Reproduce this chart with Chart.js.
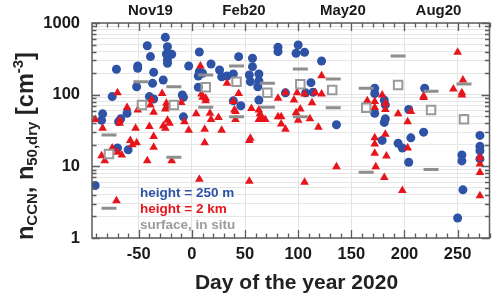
<!DOCTYPE html>
<html><head><meta charset="utf-8">
<script src="https://cdn.jsdelivr.net/npm/chart.js@4/dist/chart.umd.min.js"></script>
<style>html,body{margin:0;padding:0;background:#fff}#wrap{width:500px;height:295px}</style>
</head><body><div id="wrap"><canvas id="c" width="500" height="295"></canvas></div>
<script>
// ---- data (day of year 2020, concentration cm^-3) ----
const blueDays = [-25,-42,-23,-24,-19,-23,-23,-39,7,44,57,81,81,100,98,106,122,-51,-51,-71,-36,-3,18,26,7,10,6,28,33,39,57,54,63,55,63,62,-27,-37,-52,6,-40,-36,-9,-8,-75,39,46,63,-61,-84,-85,-67,-69,-8,-70,-60,112,88,107,114,136,172,172,181,182,172,182,181,204,219,218,206,179,194,198,271,271,271,254,254,271,204,255,250,-91];
const blueValues = [631,482,467,370,366,305,274,340,394,339,322,458,398,493,378,390,295,251,233,226,205,251,268,221,209,199,182,178,182,194,246,188,194,152,155,129,160,144,129,127,94,87,99,92,94,82,70,84,55,54,44,46,42,49,18,17,147,106,106,108,38,123,104,84,72,55,46,41,62,123,30,25,23,21,18,27,19,16.5,14.4,11.9,12.7,11.4,4.7,1.9,5.4];

const redDays = [250,122,255,246,254,254,218,218,81,88,99,106,116,122,96,113,102,98,81,84,100,111,84,88,119,165,172,179,172,182,182,194,206,203,172,172,182,203,172,183,173,136,181,106,198,271,271,271,271,-58,-52,-56,-75,-85,-82,-70,-66,-36,-42,-19,12,7,54,54,-71,8,-70,-28,9,10,33,44,39,40,13,-10,-24,-24,-25,-51,-36,-61,-91,-84,-68,-68,-53,-40,-27,-23,-25,-21,-7,-3,4,17,18,25,12,28,41,41,56,63,64,63,66,69,55,-38,-39,-36,13];
const redValues = [390,184,160,120,106,99,96,91,89,106,106,102,106,102,84,77,63,56,49,49,44,46,39,33,35,82,80,99,66,76,62,54,58,42,25,20.5,28,18,15.2,13.9,9.9,9.9,7.0,6.0,4.6,13.4,10.8,8.2,3.9,23,21.4,20,18,14,12,15.7,14.4,18.4,12,12,21.4,6.6,23,6.2,3.3,251,106,104,102,92,144,104,80,61,82,78,76,68,63,61,57,66,45,34,44,40,34,36,36.5,44,34,40,42,32,54,55,45,48,33,32,58,45,64,61,54,45,47,45,24.6,85,72,26,89];

const surfDashDays = [-78,-78,-48,-17,-17,13,13,42,42,71,71,102,102,133,133,164,164,194,225,225,256];
const surfDashValues = [27.4,2.6,152,129,13.4,188,66.7,251,49.3,144,66.7,228,49.3,165,65.8,123,8.3,347,112,9,141];

const surfSquareDays = [-78,-47,-17,13,42,71,102,132,164,194,225,256];
const surfSquareValues = [14.9,71.8,71.8,127,152,106,140,116,65.8,136,61,45.3];

const xTickLabels = [-50,0,50,100,150,200,250];
const yTickLabels = [1,10,100,1000];
const topLabels = ['Nov19','Feb20','May20','Aug20'];
const topLabelDays = [-39,49,142,232];
const legendTexts = ['height = 250 m','height = 2 km','surface, in situ'];

const BLUE = '#2d52a6', RED = '#e8141c', GRAY = '#8e8e8e';
const FONT = "'Liberation Sans', Arial, Helvetica, sans-serif";
Chart.defaults.font.family = FONT;

function pts(xs, ys){ return xs.map((d,i)=>({x:d, y:ys[i]})); }

const decor = {
  id: 'decor',
  afterDraw(chart){
    const ctx = chart.ctx;
    const {left,right,top,bottom} = chart.chartArea;
    const xs = chart.scales.x, ys = chart.scales.y;
    ctx.save();
    ctx.strokeStyle = '#5c5c5c';
    ctx.lineWidth = 1.3;
    ctx.beginPath();
    xs.ticks.forEach(t=>{
      const px = Math.round(xs.getPixelForValue(t.value))+0.5;
      const len = (t.value % 50 === 0) ? 8 : 4.5;
      ctx.moveTo(px,bottom); ctx.lineTo(px,bottom-len);
      ctx.moveTo(px,top); ctx.lineTo(px,top+len);
    });
    ys.ticks.forEach(t=>{
      const py = Math.round(ys.getPixelForValue(t.value))+0.5;
      const major = yTickLabels.includes(t.value);
      const len = major ? 8 : 4.5;
      ctx.moveTo(left,py); ctx.lineTo(left+len,py);
      ctx.moveTo(right,py); ctx.lineTo(right-len,py);
    });
    ctx.stroke();
    ctx.lineWidth = 1.5;
    ctx.strokeRect(left, top, right-left, bottom-top);

    // legend texts
    ctx.font = 'bold 13.5px ' + FONT;
    ctx.textAlign = 'left'; ctx.textBaseline = 'alphabetic';
    const cols = [BLUE, RED, '#9b9b9b'];
    legendTexts.forEach((s,i)=>{ ctx.fillStyle = cols[i]; ctx.fillText(s, 140, 197 + i*16); });

    // x title
    ctx.fillStyle = '#222';
    ctx.font = 'bold 21px ' + FONT;
    ctx.textAlign = 'center';
    ctx.fillText('Day of the year 2020', 296.5, 289);

    // y title with sub/superscripts
    ctx.translate(33, 240);
    ctx.rotate(-Math.PI/2);
    ctx.textAlign = 'left';
    const F = 23.5, S = 15;
    const segs = [
      ['n', F, 0], ['CCN', S, 4], [', ', F, 0], ['n', F, 0], ['50,dry', S, 4],
      [' [cm', F, 0], ['-3', S, -10], [']', F, 0]
    ];
    let x = 0;
    segs.forEach(([t,sz,dy])=>{
      ctx.font = 'bold ' + sz + 'px ' + FONT;
      ctx.fillText(t, x, dy);
      x += ctx.measureText(t).width;
    });
    ctx.restore();
  }
};

new Chart(document.getElementById('c'), {
  type: 'scatter',
  data: {
    datasets: [
      { label:'height = 250 m', data: pts(blueDays, blueValues), pointStyle:'circle', pointRadius:4.5,
        backgroundColor: BLUE, borderColor: BLUE, borderWidth: 0, order: 4 },
      { label:'height = 2 km', data: pts(redDays, redValues), pointStyle:'triangle', pointRadius:5,
        backgroundColor: RED, borderColor: RED, borderWidth: 0, order: 3 },
      { label:'surface range', data: pts(surfDashDays, surfDashValues), pointStyle:'line', pointRadius:7.5,
        backgroundColor: GRAY, borderColor: GRAY, borderWidth: 3, order: 2 },
      { label:'surface, in situ', data: pts(surfSquareDays, surfSquareValues), pointStyle:'rect', pointRadius:6,
        backgroundColor: 'rgba(255,255,255,0)', borderColor: '#999999', borderWidth: 2, order: 1 }
    ]
  },
  options: {
    responsive: false, animation: false, devicePixelRatio: 1, events: [],
    layout: { padding: { left: 0, right: 8, top: 0, bottom: 0 } },
    plugins: { legend: { display: false }, tooltip: { enabled: false } },
    scales: {
      x: {
        type: 'linear', position: 'bottom', min: -94, max: 280,
        afterBuildTicks(scale){ const a=[]; for(let v=-90; v<=280; v+=10) a.push({value:v}); scale.ticks = a; },
        afterFit(scale){ scale.height = 57; },
        grid: { drawTicks: false, color: c => (c.tick && c.tick.value % 50 === 0) ? '#e4e4e4' : 'rgba(0,0,0,0)', lineWidth: 1 },
        border: { display: false },
        ticks: { autoSkip: false, maxRotation: 0, padding: 7, color: '#1a1a1a',
          font: { size: 16.5, weight: 'bold' },
          callback: v => xTickLabels.includes(v) ? String(v) : '' }
      },
      x2: {
        type: 'linear', position: 'top', min: -94, max: 280,
        afterBuildTicks(scale){ scale.ticks = topLabelDays.map(v=>({value:v})); },
        afterFit(scale){ scale.height = 23; },
        grid: { display: false, drawTicks: false },
        border: { display: false },
        ticks: { autoSkip: false, maxRotation: 0, padding: 3, color: '#1a1a1a',
          font: { size: 15, weight: 'bold' },
          callback: (v, i) => topLabels[i] }
      },
      y: {
        type: 'logarithmic', position: 'left', min: 1, max: 1000,
        afterBuildTicks(scale){ const a=[]; for(const d of [1,10,100]) for(let m=1;m<10;m++) a.push({value:d*m}); a.push({value:1000}); scale.ticks = a; },
        afterFit(scale){ scale.width = 92; },
        grid: { drawTicks: false, color: '#e6e6e6', lineWidth: 1 },
        border: { display: false },
        ticks: { autoSkip: false, padding: 12, color: '#1a1a1a',
          font: { size: 16.5, weight: 'bold' },
          callback: v => yTickLabels.includes(v) ? String(v) : '' }
      }
    }
  },
  plugins: [decor]
});
</script>
</body></html>
